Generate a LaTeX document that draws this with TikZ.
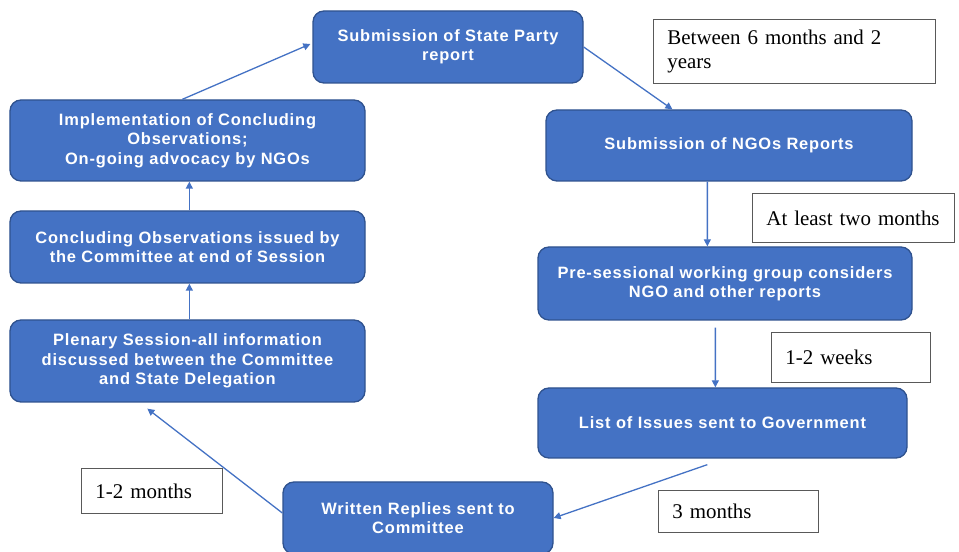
\documentclass[tikz,border=0pt]{standalone}
\usepackage{fontspec}
\setmainfont{Liberation Serif}
\newfontfamily\boxfont[LetterSpace=5]{Liberation Sans}
\usetikzlibrary{arrows.meta,calc}
\definecolor{boxblue}{HTML}{4472C4}
\definecolor{boxedge}{HTML}{2F528F}
\definecolor{arrowblue}{HTML}{4472C4}
\definecolor{labeledge}{HTML}{595959}
\tikzset{
  stage/.style={draw=boxedge, line width=1.3bp, fill=boxblue, rounded corners=11bp,
    text=white, align=center, inner sep=2bp,
    font=\boxfont\bfseries\fontsize{16.5}{19.5}\selectfont},
  timelabel/.style={draw=labeledge, line width=0.9bp, fill=white, anchor=north west,
    align=left, inner xsep=14bp, inner ysep=0bp,
    font=\fontsize{21}{24}\selectfont},
  flow/.style={draw=arrowblue, line width=1.3bp, -{Triangle[length=7bp,width=7bp]}}
}
\begin{document}
\begin{tikzpicture}[x=1bp,y=1bp]
\useasboundingbox (0,0) rectangle (959,552);
% stages
\node[stage, minimum width=270bp, minimum height=72bp] (sp) at (448,505) {Submission of State Party\\report};
\node[stage, minimum width=355bp, minimum height=81bp] (impl) at (187.5,411.5) {Implementation of Concluding\\Observations;\\On-going advocacy by NGOs};
\node[stage, minimum width=355bp, minimum height=72bp] (concl) at (187.5,305) {Concluding Observations issued by\\the Committee at end of Session};
\node[stage, minimum width=355bp, minimum height=82bp] (plen) at (187.5,191) {Plenary Session-all information\\discussed between the Committee\\and State Delegation};
\node[stage, minimum width=366bp, minimum height=71bp] (ngo) at (729,406.5) {Submission of NGOs Reports};
\node[stage, minimum width=374bp, minimum height=73bp] (pre) at (725,268.5) {Pre-sessional working group considers\\NGO and other reports};
\node[stage, minimum width=369bp, minimum height=70bp] (list) at (722.5,129) {List of Issues sent to Government};
\node[stage, minimum width=270bp, minimum height=72bp] (written) at (418,34) {Written Replies sent to\\Committee};
% time labels
\node[timelabel, minimum width=282bp, minimum height=64bp, text width=254bp] (l1) at (653,533) {Between 6 months and 2\\years};
\node[timelabel, minimum width=202bp, minimum height=49bp, text width=174bp] (l2) at (752,359) {At least two months};
\node[timelabel, minimum width=159bp, minimum height=50bp, text width=131bp] (l3) at (771,220) {1-2 weeks};
\node[timelabel, minimum width=160bp, minimum height=42bp, text width=132bp] (l4) at (658,62) {3 months};
\node[timelabel, minimum width=141bp, minimum height=45bp, text width=113bp] (l5) at (81,84) {1-2 months};
% connectors
\draw[flow] ($(impl.north west)+(173,0)$) -- ($(sp.west)+(-2,3)$);
\draw[flow] (sp.east) -- ($(ngo.north west)+(127,0)$);
\draw[flow] ($(ngo.south west)+(162,0)$) -- ($(pre.north west)+(170,0)$);
\draw[flow] ($(pre.south west)+(178,-7)$) -- ($(list.north west)+(178,0)$);
\draw[flow] ($(list.south west)+(170,-6)$) -- (written.east);
\draw[flow] ($(written.west)+(0,5)$) -- ($(plen.south west)+(138,-6)$);
\draw[flow] ($(plen.north west)+(180,0)$) -- ($(concl.south west)+(180,0)$);
\draw[flow] ($(concl.north west)+(180,0)$) -- ($(impl.south west)+(180,0)$);
\end{tikzpicture}
\end{document}
